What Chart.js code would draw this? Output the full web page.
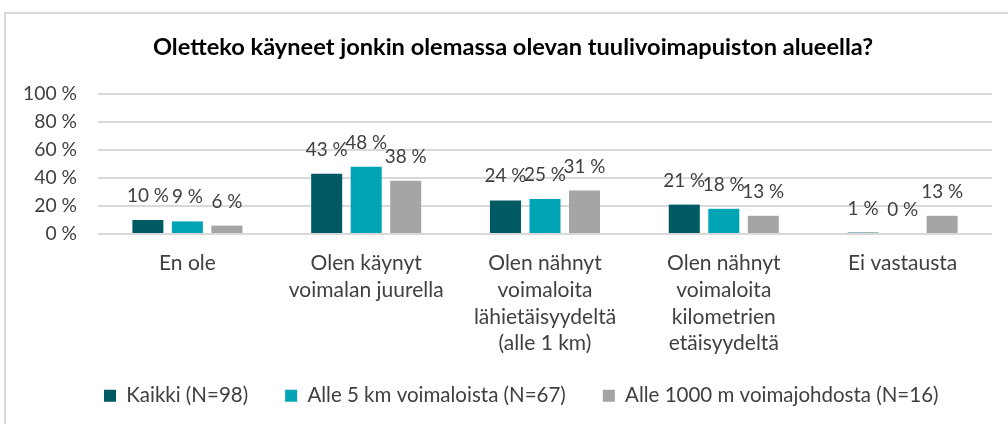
<!DOCTYPE html>
<html>
<head>
<meta charset="utf-8">
<script src="https://cdn.jsdelivr.net/npm/chart.js@4/dist/chart.umd.min.js"></script>
<style>
  html, body { margin:0; padding:0; background:#fff; overflow:hidden; }
  #frame { position:absolute; left:4px; top:12px; width:1100px; height:600px; border:2px solid #D9D9D9; box-sizing:border-box; }
  #wrap { position:absolute; left:0; top:0; width:1008px; height:424px; }
</style>
</head>
<body>
<div id="frame"></div>
<div id="wrap"><canvas id="c" width="1008" height="424"></canvas></div>
<script>
const title = 'Oletteko käyneet jonkin olemassa olevan tuulivoimapuiston alueella?';
const categories = [
  ['En ole'],
  ['Olen käynyt', 'voimalan juurella'],
  ['Olen nähnyt', 'voimaloita', 'lähietäisyydeltä', '(alle 1 km)'],
  ['Olen nähnyt', 'voimaloita', 'kilometrien', 'etäisyydeltä'],
  ['Ei vastausta']
];
const seriesNames = ['Kaikki (N=98)', 'Alle 5 km voimaloista (N=67)', 'Alle 1000 m voimajohdosta (N=16)'];
const kaikki = [10, 43, 24, 21, 1];
const alle5km = [9, 48, 25, 18, 0];
const alle1000m = [6, 38, 31, 13, 13];
const yTicks = [0, 20, 40, 60, 80, 100];
const colors = ['#005A63', '#00A4B4', '#A5A5A5'];

const FONT = 'Lato, "Open Sans", sans-serif';
const TEXT = '#404040';

// pick font sizes so that text widths match the reference picture
const mctx = document.createElement('canvas').getContext('2d');
function fitSize(text, target, weight) {
  mctx.font = (weight || 'normal') + ' 100px ' + FONT;
  return Math.round(100 * target / mctx.measureText(text).width * 10) / 10;
}
const titleSize = fitSize(title, 719, 'bold');
const yTickSize = fitSize('100 %', 54);
const valueSize = fitSize('10 %', 42);
const xSize = fitSize('voimalan juurella', 155);
const legendSize = fitSize(seriesNames.join(''), 693);
const LEG_PAD = 37;
const BOTTOM_PAD = 8;
const PLOT_BOTTOM = 234;
const legendHeight = Math.max(legendSize, 12) + LEG_PAD + 10;
const xAxisHeight = 424 - BOTTOM_PAD - legendHeight - PLOT_BOTTOM;

const valueLabels = {
  id: 'valueLabels',
  afterLayout(chart) {
    // position title / legend like the reference (centred on the full original frame)
    const t = chart.titleBlock;
    t.left += 17; t.right += 17;
    const l = chart.legend;
    l.left = 104 - LEG_PAD; l.right = 1100;
    // let multi-line category labels extend below the axis box
    chart.scales.x._computeLabelArea = function () { return undefined; };
  },
  afterDatasetsDraw(chart) {
    const ctx = chart.ctx;
    ctx.save();
    ctx.font = valueSize + 'px ' + FONT;
    ctx.fillStyle = TEXT;
    ctx.textAlign = 'center';
    ctx.textBaseline = 'middle';
    chart.data.datasets.forEach((ds, i) => {
      chart.getDatasetMeta(i).data.forEach((bar, j) => {
        ctx.fillText(ds.data[j] + ' %', bar.x, bar.y - 24);
      });
    });
    ctx.restore();
  }
};

new Chart(document.getElementById('c'), {
  type: 'bar',
  data: {
    labels: categories,
    datasets: [
      { label: seriesNames[0], data: kaikki, backgroundColor: colors[0] },
      { label: seriesNames[1], data: alle5km, backgroundColor: colors[1] },
      { label: seriesNames[2], data: alle1000m, backgroundColor: colors[2] }
    ]
  },
  options: {
    responsive: false,
    animation: false,
    events: [],
    datasets: { bar: { categoryPercentage: 0.663, barPercentage: 0.785 } },
    layout: { padding: { left: 0, right: 16, top: 0, bottom: BOTTOM_PAD } },
    plugins: {
      title: {
        display: true, text: title, color: '#000',
        font: { family: FONT, size: titleSize, weight: 'bold', lineHeight: '24px' },
        padding: { top: 35, bottom: 35 }
      },
      legend: {
        position: 'bottom',
        align: 'start',
        labels: {
          color: TEXT, boxWidth: 12, boxHeight: 12, padding: LEG_PAD,
          font: { family: FONT, size: legendSize, lineHeight: 1 }
        }
      },
      tooltip: { enabled: false }
    },
    scales: {
      x: {
        grid: { display: false, drawTicks: false },
        border: { display: false },
        ticks: { color: TEXT, padding: 16, font: { family: FONT, size: xSize, lineHeight: '26.7px' }, maxRotation: 0, autoSkip: false },
        afterFit(scale) { scale.height = xAxisHeight; }
      },
      y: {
        min: 0, max: 100,
        grid: { color: '#D9D9D9', lineWidth: 2, drawTicks: false },
        border: { display: false },
        afterBuildTicks(scale) { scale.ticks = yTicks.map(v => ({ value: v })); },
        ticks: { color: TEXT, padding: 21, font: { family: FONT, size: yTickSize }, callback: v => v + ' %' },
        afterFit(scale) { scale.width = 98; }
      }
    }
  },
  plugins: [valueLabels]
});
</script>
</body>
</html>
